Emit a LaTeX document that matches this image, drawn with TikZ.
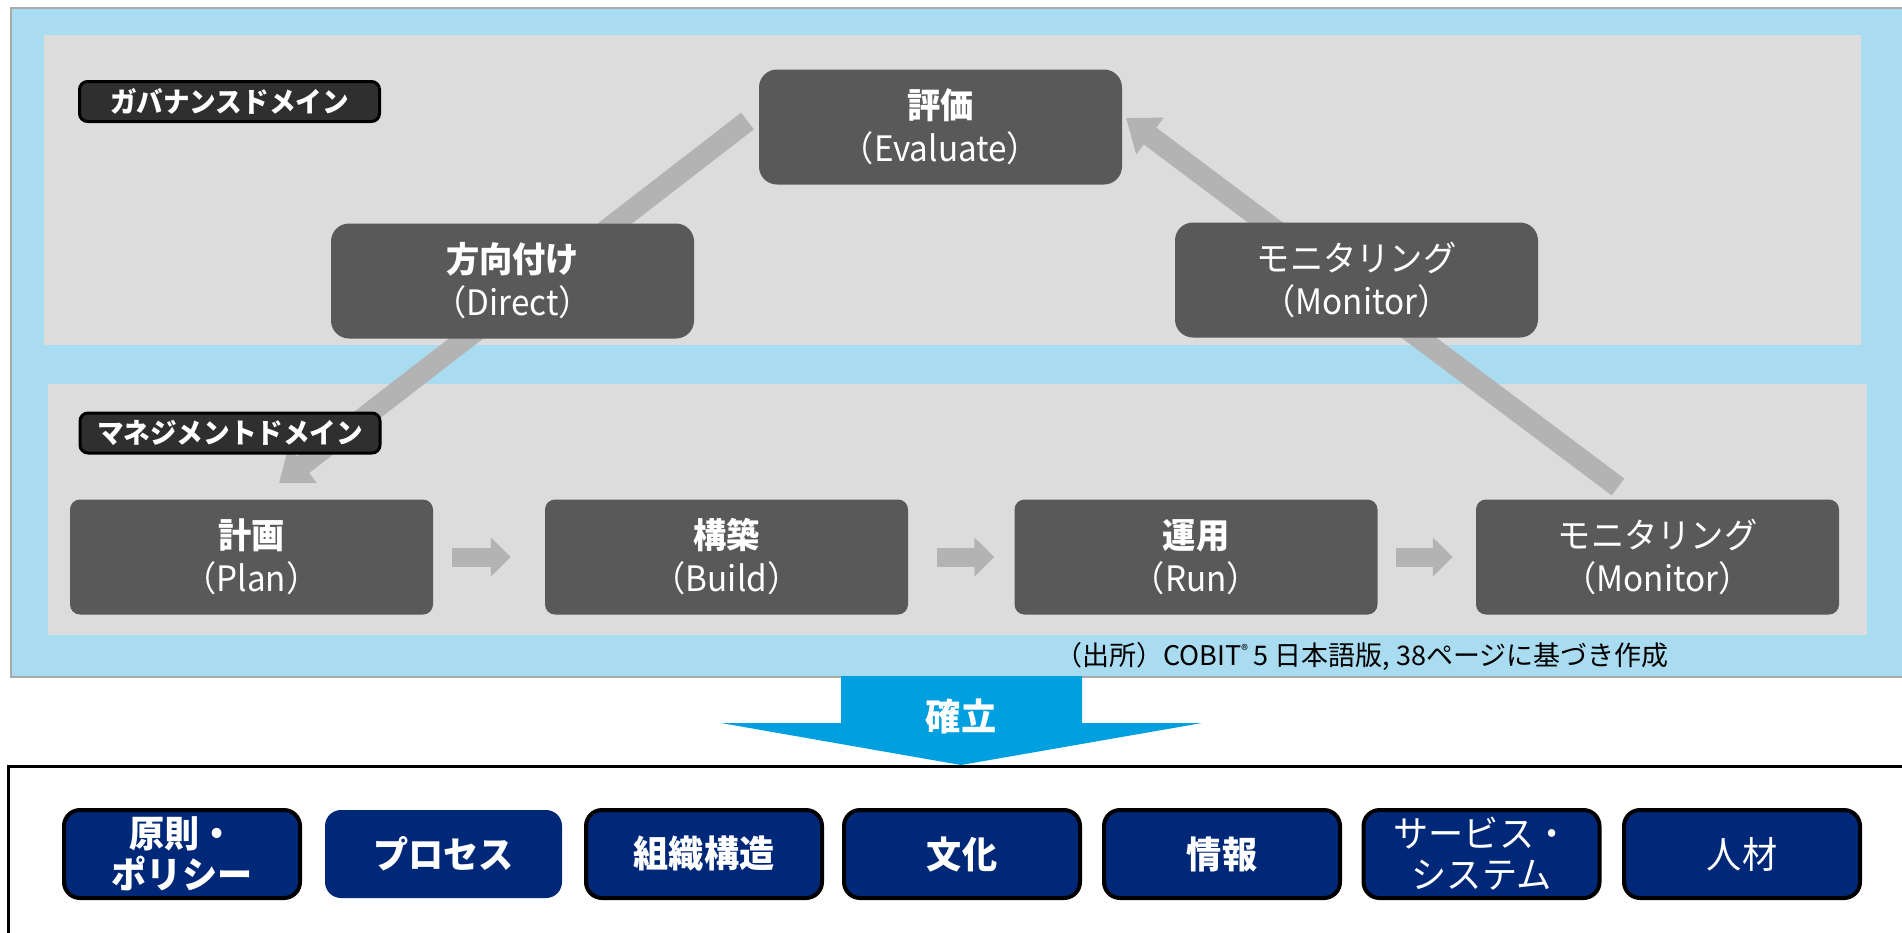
\documentclass[tikz,border=0pt]{standalone}
\usepackage{fontspec}
\newfontfamily\jp{Noto Sans CJK JP}[FakeStretch=0.95]
\newfontfamily\jpw{Noto Sans CJK JP}
\usetikzlibrary{arrows.meta}
\definecolor{lightblue}{HTML}{A9DCF0}
\definecolor{panelgray}{HTML}{DCDCDC}
\definecolor{boxgray}{HTML}{595959}
\definecolor{arrowgray}{HTML}{B3B3B3}
\definecolor{labelfill}{HTML}{2F2F2F}
\definecolor{navy}{RGB}{0,40,120}
\definecolor{bluearrow}{HTML}{00A0E0}
\definecolor{outerborder}{HTML}{AAAAAA}
\begin{document}
\begin{tikzpicture}[x=1pt,y=-1pt,
  govbox/.style={fill=boxgray, rounded corners=18pt, minimum width=363pt, minimum height=115pt,
    inner sep=0pt, text=white, align=center, font=\jp\fontsize{35}{43}\selectfont},
  mgbox/.style={govbox, rounded corners=10pt},
  domlabel/.style={fill=labelfill, draw=black, line width=3pt, rounded corners=8pt,
    minimum width=300pt, minimum height=40pt, inner sep=0pt, text=white,
    font=\jp\fontsize{28}{30}\selectfont\bfseries},
  enabler/.style={fill=navy, draw=black, line width=4pt, rounded corners=16pt,
    minimum width=236pt, minimum height=88pt, inner sep=0pt, text=white, align=center,
    font=\jp\fontsize{37}{41}\selectfont},
  garrow/.style={draw=arrowgray, line width=21pt, -{Triangle[length=30pt,width=44pt]}},
  harrow/.style={draw=arrowgray, line width=19pt, -{Triangle[length=20pt,width=38pt]}}
]
\useasboundingbox (0,0) rectangle (1902,932);
\clip (0,0) rectangle (1902,932);
\fill[white] (0,0) rectangle (1902,932);

% outer frame
\draw[fill=lightblue, draw=outerborder, line width=2pt] (11,8) rectangle (1915,677);
% panels
\fill[panelgray] (44,35) rectangle (1861,345);
\fill[panelgray] (48,384) rectangle (1867,635);

% diagonal connectors (behind boxes)
\coordinate (dS) at (747.5,121);
\coordinate (dE) at (279,483);
\coordinate (mS) at (1618,487);
\coordinate (mE) at (1126,118);
\draw[garrow] (dS) -- (dE);
\draw[garrow] (mS) -- (mE);

% domain labels
\node[domlabel] (glabel) at (229.5,101.5) {ガバナンスドメイン};
\node[domlabel] (mlabel) at (230,433) {マネジメントドメイン};

% governance boxes
\node[govbox] (eval) at (940.5,127) {\textbf{評価}\\（Evaluate）};
\node[govbox] (direct) at (512.5,281) {\textbf{方向付け}\\（Direct）};
\node[govbox] (gmon) at (1356.5,280) {モニタリング\\（Monitor）};

% management boxes
\node[mgbox] (plan) at (251.5,557) {\textbf{計画}\\（Plan）};
\node[mgbox] (build) at (726.5,557) {\textbf{構築}\\（Build）};
\node[mgbox] (run) at (1196,557) {\textbf{運用}\\（Run）};
\node[mgbox] (mmon) at (1657.5,557) {モニタリング\\（Monitor）};

\draw[harrow] ([xshift=19pt]plan.east) -- ([xshift=-34pt]build.west);
\draw[harrow] ([xshift=29pt]build.east) -- ([xshift=-20pt]run.west);
\draw[harrow] ([xshift=18pt]run.east) -- ([xshift=-23pt]mmon.west);

% source note
\node[font=\jpw\fontsize{27}{30}\selectfont, text=black, inner sep=0pt] (note) at (1362,656)
  {（出所）COBIT\raisebox{10pt}{\fontsize{14}{14}\selectfont ®} 5 日本語版, 38ページに基づき作成};

% bottom frame
\draw[black, line width=3pt] (8.5,766) rectangle (1920,960);

% establish arrow
\fill[bluearrow] (841,676) -- (1082,676) -- (1082,723) -- (1202,723) -- (961,765) -- (721,723) -- (841,723) -- cycle;
\node[font=\jp\fontsize{37}{40}\selectfont\bfseries, text=white, inner sep=0pt] (kakuritsu) at (961,716) {確立};

% enablers
\node[enabler] (e1) at (182,854) {\textbf{原則・}\\\textbf{ポリシー}};
\node[enabler, draw=none, minimum width=237pt, minimum height=88pt] (e2) at (443.5,854) {\textbf{プロセス}};
\node[enabler] (e3) at (704,854) {\textbf{組織構造}};
\node[enabler] (e4) at (962,854) {\textbf{文化}};
\node[enabler] (e5) at (1222,854) {\textbf{情報}};
\node[enabler] (e6) at (1481.5,854) {サービス・\\システム};
\node[enabler] (e7) at (1742,854) {人材};
\end{tikzpicture}
\end{document}
